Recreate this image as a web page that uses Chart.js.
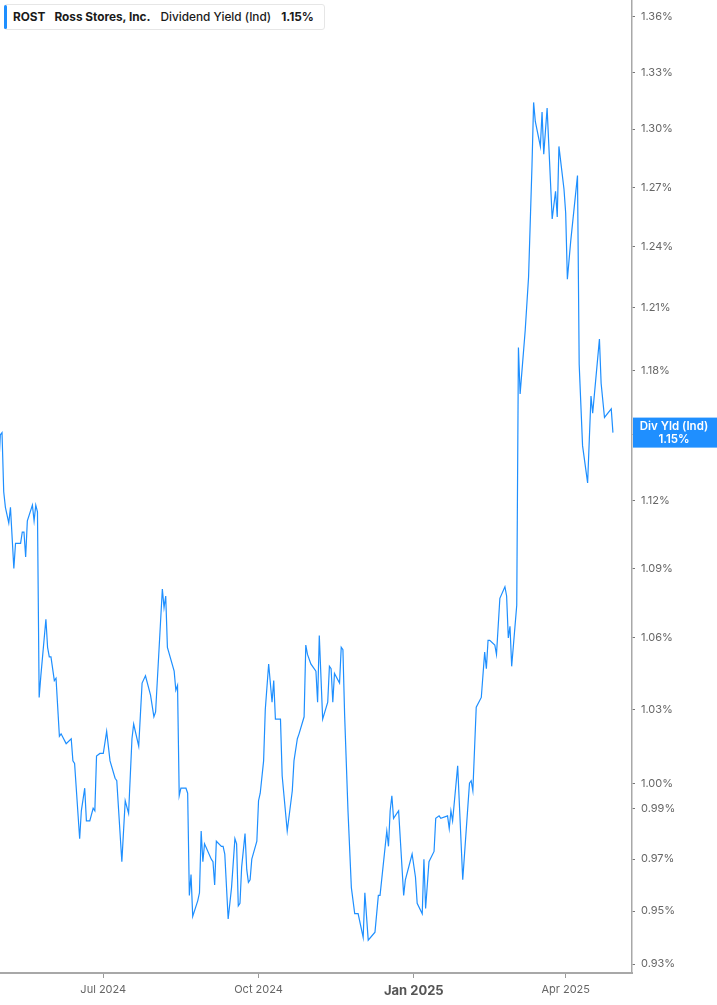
<!DOCTYPE html>
<html>
<head>
<meta charset="utf-8">
<script src="https://cdn.jsdelivr.net/npm/chart.js@4.4.1/dist/chart.umd.min.js"></script>
<style>
  html,body{margin:0;padding:0;background:#fff;}
  #wrap{position:relative;width:717px;height:1005px;}
  #hdr{position:absolute;left:4px;top:4px;height:26px;width:321px;box-sizing:border-box;border:1px solid #e6e6e6;border-radius:3px;background:#fff;display:flex;align-items:center;font-family:Inter,"Noto Sans",sans-serif;font-size:11.8px;color:#1a1a1a;white-space:nowrap;}
  #hdr .bar{position:absolute;left:-1px;top:0px;width:3px;height:24px;background:#1e8fff;border-radius:2px;}
  #hdr span{display:inline-block;}
</style>
</head>
<body>
<div id="wrap">
<canvas id="c" width="717" height="1005"></canvas>
<div id="hdr"><div class="bar"></div>
  <span style="margin-left:8px;font-weight:700;">ROST</span>
  <span style="margin-left:9px;font-weight:700;">Ross Stores, Inc.</span>
  <span style="margin-left:10px;font-weight:500;">Dividend Yield (Ind)</span>
  <span id="hv" style="margin-left:10px;font-weight:700;">1.15%</span>
</div>
</div>
<script>
const dates = [
"2024-04-30","2024-05-01","2024-05-02","2024-05-03","2024-05-04","2024-05-06","2024-05-07","2024-05-09","2024-05-10","2024-05-13","2024-05-14","2024-05-15","2024-05-16","2024-05-17","2024-05-20","2024-05-21","2024-05-22","2024-05-23","2024-05-24","2024-05-25","2024-05-28","2024-05-29","2024-05-30","2024-05-31",
"2024-06-02","2024-06-03","2024-06-05","2024-06-06","2024-06-09","2024-06-12","2024-06-13","2024-06-14","2024-06-17","2024-06-18","2024-06-20","2024-06-21","2024-06-23","2024-06-25","2024-06-26","2024-06-27","2024-06-29",
"2024-07-01","2024-07-03","2024-07-05","2024-07-08","2024-07-09","2024-07-12","2024-07-14","2024-07-16","2024-07-18","2024-07-19","2024-07-22","2024-07-24","2024-07-26","2024-07-29","2024-07-31",
"2024-08-01","2024-08-05","2024-08-06","2024-08-07","2024-08-08","2024-08-12","2024-08-13","2024-08-14","2024-08-15","2024-08-16","2024-08-19","2024-08-20","2024-08-21","2024-08-22","2024-08-23","2024-08-26","2024-08-27","2024-08-28","2024-08-29","2024-08-30",
"2024-09-03","2024-09-04","2024-09-05","2024-09-06","2024-09-09","2024-09-10","2024-09-11","2024-09-13","2024-09-15","2024-09-17","2024-09-18","2024-09-19","2024-09-20","2024-09-21","2024-09-23","2024-09-24","2024-09-25","2024-09-26","2024-09-27","2024-09-30",
"2024-10-01","2024-10-02","2024-10-04","2024-10-05","2024-10-07","2024-10-09","2024-10-10","2024-10-11","2024-10-14","2024-10-15","2024-10-18","2024-10-21","2024-10-22","2024-10-24","2024-10-25","2024-10-28","2024-10-29","2024-10-30",
"2024-11-01","2024-11-04","2024-11-05","2024-11-06","2024-11-08","2024-11-11","2024-11-12","2024-11-13","2024-11-14","2024-11-15","2024-11-18","2024-11-19","2024-11-20","2024-11-21","2024-11-23","2024-11-25","2024-11-27","2024-11-29",
"2024-12-02","2024-12-03","2024-12-05","2024-12-09","2024-12-11","2024-12-12","2024-12-16","2024-12-17","2024-12-18","2024-12-19","2024-12-20","2024-12-23","2024-12-26","2024-12-27","2024-12-31",
"2025-01-02","2025-01-03","2025-01-06","2025-01-07","2025-01-08","2025-01-10","2025-01-13","2025-01-14","2025-01-16","2025-01-17","2025-01-21","2025-01-22","2025-01-23","2025-01-24","2025-01-27","2025-01-30",
"2025-02-03","2025-02-04","2025-02-05","2025-02-07","2025-02-10","2025-02-12","2025-02-13","2025-02-14","2025-02-15","2025-02-18","2025-02-19","2025-02-21","2025-02-24","2025-02-25","2025-02-26","2025-02-27","2025-02-28",
"2025-03-03","2025-03-04","2025-03-05","2025-03-08","2025-03-10","2025-03-12","2025-03-13","2025-03-14","2025-03-17","2025-03-18","2025-03-19","2025-03-21","2025-03-24","2025-03-26","2025-03-27","2025-03-28","2025-03-31",
"2025-04-01","2025-04-02","2025-04-04","2025-04-08","2025-04-09","2025-04-11","2025-04-14","2025-04-16","2025-04-17","2025-04-21","2025-04-22","2025-04-24","2025-04-28","2025-04-29"
];
const yieldPct = [
1.135,1.150,1.151,1.124,1.117,1.110,1.117,1.090,1.101,1.101,1.106,1.106,1.095,1.111,1.118,1.111,1.118,1.115,1.035,1.044,1.068,1.056,1.052,1.052,
1.042,1.043,1.019,1.020,1.016,1.018,1.009,1.008,0.978,0.989,0.998,0.985,0.985,0.990,0.989,1.011,1.012,
1.012,1.021,1.009,1.002,1.001,0.969,0.993,0.988,1.018,1.024,1.015,1.041,1.044,1.036,1.027,
1.029,1.081,1.073,1.078,1.056,1.046,1.038,1.040,0.995,0.998,0.998,0.996,0.956,0.964,0.948,0.954,0.957,0.981,0.969,0.976,
0.970,0.969,0.960,0.977,0.975,0.975,0.972,0.947,0.959,0.978,0.976,0.952,0.953,0.967,0.980,0.966,0.961,0.962,0.970,0.977,
0.993,0.996,1.009,1.030,1.049,1.033,1.042,1.026,1.026,1.003,0.981,0.997,1.009,1.018,1.020,1.027,1.057,1.053,
1.049,1.046,1.033,1.061,1.026,1.033,1.048,1.047,1.033,1.045,1.041,1.056,1.055,1.028,0.989,0.959,0.949,0.949,
0.940,0.957,0.939,0.942,0.956,0.956,0.981,0.975,0.989,0.995,0.986,0.989,0.956,0.962,0.972,
0.963,0.953,0.949,0.970,0.951,0.969,0.973,0.986,0.987,0.986,0.987,0.982,0.989,0.985,1.007,0.962,
1.000,1.001,0.997,1.031,1.035,1.054,1.047,1.059,1.059,1.057,1.053,1.077,1.082,1.078,1.060,1.065,1.048,
1.074,1.191,1.169,1.199,1.225,1.280,1.314,1.304,1.291,1.309,1.287,1.311,1.254,1.268,1.255,1.291,1.269,
1.257,1.224,1.243,1.276,1.183,1.145,1.128,1.168,1.160,1.195,1.174,1.158,1.162,1.151
];
const xTickDates = ["2024-07-01","2024-10-01","2025-01-01","2025-04-01"];
const xTickLabels = ["Jul 2024","Oct 2024","Jan 2025","Apr 2025"];
const xBoldLabels = ["Jan 2025"];
const yTicks = [0.93,0.95,0.97,0.99,1.00,1.03,1.06,1.09,1.12,1.15,1.18,1.21,1.24,1.27,1.30,1.33,1.36];
const xRange = ["2024-04-29","2025-05-10"];
const yRange = [0.9267, 1.3691];
const seriesLabel = "Div Yld (Ind)";

const DAY = 86400000;
const base = Date.UTC(2024,4,1);
function dnum(s){const p=s.split('-').map(Number);return (Date.UTC(p[0],p[1]-1,p[2])-base)/DAY;}
const pts = dates.map((d,i)=>({x:dnum(d), y:yieldPct[i]}));
const lastVal = yieldPct[yieldPct.length-1];
document.getElementById('hv').textContent = lastVal.toFixed(2)+'%';

const FONT = 'Inter, "Noto Sans", sans-serif';
const labelBox = {
  id:'labelBox',
  afterDraw(chart){
    const ctx = chart.ctx, ys = chart.scales.y, ca = chart.chartArea;
    const y = ys.getPixelForValue(lastVal);
    const x0 = ca.right + 1, x1 = chart.width;
    ctx.save();
    ctx.fillStyle = '#1f8fff';
    ctx.fillRect(x0, y-15, x1-x0, 30);
    ctx.fillStyle = '#ffffff';
    ctx.font = '600 11.5px ' + FONT;
    ctx.textAlign = 'center';
    ctx.textBaseline = 'middle';
    const cx = (x0 + x1)/2 - 1;
    ctx.fillText(seriesLabel, cx, y-6);
    ctx.fillText(lastVal.toFixed(2)+'%', cx, y+7);
    ctx.restore();
  }
};

new Chart(document.getElementById('c'), {
  type:'line',
  data:{datasets:[{data:pts, borderColor:'#1e8fff', borderWidth:1.2, pointRadius:0, tension:0, fill:false}]},
  options:{
    responsive:false, animation:false, devicePixelRatio:1,
    layout:{padding:{left:0,top:0,right:0,bottom:0}},
    plugins:{legend:{display:false}, tooltip:{enabled:false}},
    scales:{
      x:{
        type:'linear', min:dnum(xRange[0])+1.8, max:dnum(xRange[1])+0.3,
        afterBuildTicks(s){ s.ticks = xTickDates.map(d=>({value:dnum(d)})); },
        afterFit(s){ s.height = 32; s.paddingLeft = 0; s.paddingRight = 0; },
        grid:{drawOnChartArea:false, drawTicks:true, tickLength:5, color:'#9a9a9a', lineWidth:1},
        border:{display:true, color:'#a8a8a8', width:2},
        ticks:{
          autoSkip:false, maxRotation:0, padding:5,
          color:(c)=> xBoldLabels.includes(xTickLabels[c.index]) ? '#555' : '#666',
          font:(c)=> xBoldLabels.includes(xTickLabels[c.index]) ? {family:FONT,size:13,weight:'700'} : {family:FONT,size:11},
          callback:(v,i)=> xTickLabels[i]
        }
      },
      y:{
        type:'logarithmic', position:'right', min:yRange[0], max:yRange[1],
        afterBuildTicks(s){ s.ticks = yTicks.map(v=>({value:v})); },
        afterFit(s){ s.width = 85; s.paddingTop = 0; s.paddingBottom = 0; },
        grid:{drawOnChartArea:false, drawTicks:true, tickLength:3, color:'#777', lineWidth:1},
        border:{display:true, color:'#a8a8a8', width:1.5},
        ticks:{autoSkip:false, padding:6, color:'#666', font:{family:FONT,size:11},
          callback:(v)=> Number(v).toFixed(2)+'%'}
      }
    }
  },
  plugins:[labelBox]
});
</script>
</body>
</html>
